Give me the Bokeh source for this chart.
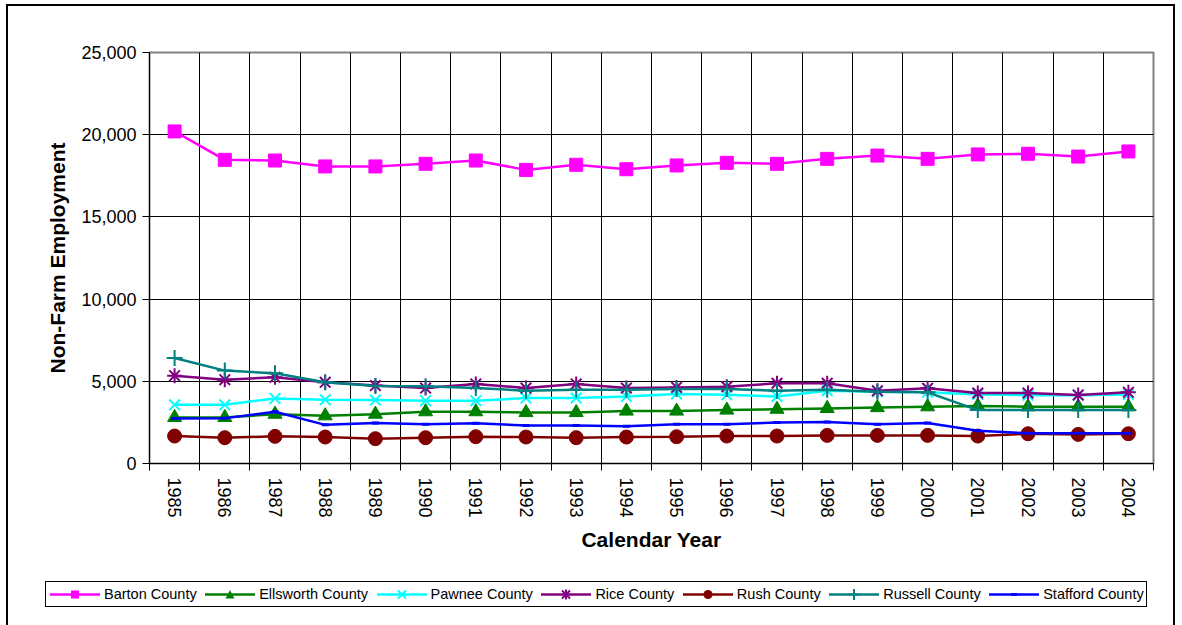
from bokeh.plotting import figure
from bokeh.layouts import column
from bokeh.models import FixedTicker, NumeralTickFormatter, Range1d, Div
from bokeh.embed import file_html
from bokeh.resources import INLINE

years = list(range(1985, 2005))
barton = [20200, 18470, 18430, 18070, 18070, 18230, 18430, 17860, 18170, 17900,
          18130, 18290, 18230, 18530, 18730, 18530, 18800, 18840, 18670, 18980]
ellsworth = [2800, 2800, 3000, 2900, 3000, 3150, 3150, 3100, 3100, 3190,
             3190, 3250, 3300, 3350, 3400, 3450, 3500, 3450, 3450, 3450]
pawnee = [3570, 3570, 3960, 3880, 3860, 3820, 3820, 3980, 3980, 4080,
          4230, 4180, 4080, 4430, 4370, 4330, 4200, 4150, 4150, 4200]
rice = [5340, 5100, 5240, 4940, 4740, 4590, 4840, 4590, 4840, 4590,
        4630, 4670, 4880, 4880, 4430, 4570, 4290, 4290, 4170, 4330]
rush = [1670, 1570, 1650, 1610, 1510, 1570, 1630, 1610, 1570, 1610,
        1630, 1670, 1670, 1710, 1710, 1710, 1670, 1810, 1770, 1810]
russell = [6420, 5650, 5490, 4940, 4710, 4700, 4590, 4430, 4490, 4490,
           4530, 4530, 4430, 4490, 4370, 4330, 3250, 3250, 3250, 3250]
stafford = [2740, 2760, 3150, 2350, 2470, 2390, 2450, 2310, 2310, 2270,
            2390, 2390, 2490, 2530, 2390, 2470, 1990, 1840, 1840, 1840]

names = ["Barton County", "Ellsworth County", "Pawnee County", "Rice County",
         "Rush County", "Russell County", "Stafford County"]
y_ticks = [0, 5000, 10000, 15000, 20000, 25000]

FONT = "Liberation Sans"
BLK = "linear-gradient(#000,#000)"

p = figure(width=1182, height=575, output_backend="svg", toolbar_location=None,
           x_range=Range1d(years[0] - 0.5, years[-1] + 0.5),
           y_range=Range1d(y_ticks[0], y_ticks[-1]),
           min_border_left=149, min_border_right=29, min_border_top=52,
           min_border_bottom=112)
p.styles = {
    "background-color": "white",
    "background-image": f"{BLK}, {BLK}, {BLK}",
    "background-size": "2px 700px, 1169px 2px, 2px 700px",
    "background-position": "6px 4px, 6px 4px, 1173px 4px",
    "background-repeat": "no-repeat",
}
p.background_fill_color = "white"
p.border_fill_color = None
p.outline_line_color = "#808080"
p.outline_line_width = 2

boundaries = [y - 0.5 for y in years] + [years[-1] + 0.5]

# x axis
xa = p.xaxis[0]
xa.ticker = FixedTicker(ticks=years, minor_ticks=boundaries)
xa.major_tick_line_color = None
xa.major_tick_out = 7
xa.major_tick_in = 0
xa.minor_tick_out = 7
xa.minor_tick_in = 0
xa.minor_tick_line_color = "black"
xa.major_label_orientation = "vertical"
xa.major_label_standoff = 7
xa.major_label_text_font = FONT
xa.major_label_text_font_size = "18px"
xa.major_label_text_color = "black"
xa.axis_line_color = "black"
xa.axis_label = "Calendar Year"
xa.axis_label_text_font = FONT
xa.axis_label_text_font_size = "21px"
xa.axis_label_text_font_style = "bold"
xa.axis_label_text_color = "black"
xa.axis_label_standoff = 7

# y axis
ya = p.yaxis[0]
ya.ticker = FixedTicker(ticks=y_ticks)
ya.formatter = NumeralTickFormatter(format="0,0")
ya.major_tick_out = 7
ya.major_tick_in = 0
ya.minor_tick_line_color = None
ya.major_tick_line_color = "black"
ya.major_label_standoff = 6
ya.major_label_text_font = FONT
ya.major_label_text_font_size = "18px"
ya.major_label_text_color = "black"
ya.axis_line_color = "black"
ya.axis_label = "Non-Farm Employment"
ya.axis_label_text_font = FONT
ya.axis_label_text_font_size = "21px"
ya.axis_label_text_font_style = "bold"
ya.axis_label_text_color = "black"
ya.axis_label_standoff = 9

p.xgrid.ticker = FixedTicker(ticks=boundaries)
p.xgrid.grid_line_color = "black"
p.xgrid.grid_line_width = 1
p.ygrid.grid_line_color = "black"
p.ygrid.grid_line_width = 1

styles = [
    ("#FF00FF", "square", 13, 1),
    ("#008000", "triangle", 14, 1),
    ("#00FFFF", "x", 15, 2),
    ("#800080", "asterisk", 15, 2),
    ("#800000", "circle", 14, 1),
    ("#008080", "cross", 16, 2),
    ("#0000FF", "dash", 7, 3),
]
data = [barton, ellsworth, pawnee, rice, rush, russell, stafford]

for vals, (color, marker, size, lw) in zip(data, styles):
    p.line(years, vals, line_color=color, line_width=2.5)
    p.scatter(years, vals, marker=marker, size=size, fill_color=color,
              line_color=color, line_width=lw)


# legend strip below the chart (HTML so it may extend beyond the plot frame)
def legend_marker(shape, color):
    if shape == "square":
        return f'<rect x="21" y="5.5" width="8" height="8" fill="{color}"/>'
    if shape == "triangle":
        return f'<polygon points="25,5 29.5,13.5 20.5,13.5" fill="{color}"/>'
    if shape == "x":
        return (f'<path d="M21,5.5 L29,13.5 M29,5.5 L21,13.5" stroke="{color}" '
                f'stroke-width="2" fill="none"/>')
    if shape == "asterisk":
        return (f'<path d="M21,5.5 L29,13.5 M29,5.5 L21,13.5 M25,4.5 L25,14.5" '
                f'stroke="{color}" stroke-width="2" fill="none"/>')
    if shape == "circle":
        return f'<circle cx="25" cy="9.5" r="4.5" fill="{color}"/>'
    if shape == "cross":
        return (f'<path d="M25,4 L25,15 M19.5,9.5 L30.5,9.5" stroke="{color}" '
                f'stroke-width="2" fill="none"/>')
    return f'<rect x="22" y="8" width="6" height="3" fill="{color}"/>'


item_html = []
for name, (color, marker, size, lw) in zip(names, styles):
    svg = (f'<svg width="50" height="19" style="display:block">'
           f'<line x1="0" y1="9.5" x2="50" y2="9.5" stroke="{color}" stroke-width="2.5"/>'
           f'{legend_marker(marker, color)}</svg>')
    item_html.append(
        f'<span style="display:flex;align-items:center">{svg}'
        f'<span style="margin-left:4px">{name}</span></span>')

legend_html = (
    '<div style="position:relative;width:1182px;height:50px;overflow:hidden;background:white">'
    '<div style="position:absolute;left:6px;top:0;width:2px;height:50px;background:#000"></div>'
    '<div style="position:absolute;left:1173px;top:0;width:2px;height:50px;background:#000"></div>'
    f'<div style="position:absolute;left:45px;top:6px;height:26px;padding:0 2px 0 4px;'
    f'border:1px solid #000;display:flex;align-items:center;gap:8.5px;white-space:nowrap;'
    f'font-family:\'{FONT}\';font-size:14.5px;color:#000;line-height:19px">'
    + "".join(item_html) +
    '</div></div>'
)
leg = Div(text=legend_html, width=1182, height=50, margin=(0, 0, 0, 0))

layout = column(p, leg, spacing=0)
open("out.html", "w").write(file_html(layout, INLINE))
